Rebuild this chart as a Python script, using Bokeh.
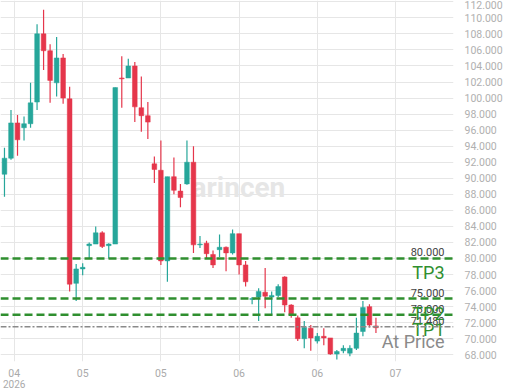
from bokeh.plotting import figure
from bokeh.models import (ColumnDataSource, FixedTicker, NumeralTickFormatter, Label,
                          Range1d, Span, LinearAxis)
from bokeh.core.properties import value
from bokeh.embed import file_html
from bokeh.resources import INLINE

opens = [90.5, 92.5, 96.9, 96.3, 96.8, 99.5, 108.0, 105.9, 101.9, 105.0,
         99.9, 76.9, 78.7, 81.6, 81.8, 83.2, 81.6, 81.8, 102.5, 102.5,
         104.0, 98.8, 97.8, 91.8, 91.0, 79.7, 90.2, 88.4, 89.3, 92.0,
         81.7, 81.9, 80.5, 81.1, 81.4, 80.7, 83.1, 79.2, 74.9, 75.2,
         75.8, 75.2, 75.4, 77.7, 74.2, 72.6, 70.0, 71.3, 69.7, 70.3,
         70.1, 68.1, 68.5, 68.2, 68.8, 70.9, 74.0, 71.6]
highs = [93.8, 98.5, 97.9, 97.7, 101.9, 109.2, 111.0, 106.7, 107.6, 105.5,
         101.4, 79.3, 79.4, 82.0, 84.0, 83.4, 81.9, 101.3, 105.2, 104.9,
         104.5, 102.7, 99.5, 92.7, 94.7, 90.2, 92.6, 89.3, 94.7, 94.0,
         82.8, 82.2, 81.0, 83.0, 81.5, 83.6, 83.1, 79.7, 75.2, 76.3,
         78.8, 75.9, 76.8, 77.8, 74.3, 72.9, 72.2, 71.7, 70.7, 71.3,
         70.1, 68.6, 69.2, 69.2, 72.6, 74.7, 74.3, 72.6]
lows = [87.7, 92.3, 92.8, 94.7, 96.3, 98.5, 103.5, 99.4, 100.2, 99.3,
        75.9, 74.7, 77.9, 80.0, 81.8, 81.3, 80.0, 81.8, 98.8, 102.5,
        97.0, 95.8, 94.9, 89.4, 79.2, 77.1, 88.0, 86.4, 89.2, 80.7,
        81.3, 80.0, 78.8, 80.2, 78.4, 80.5, 78.0, 76.5, 74.3, 72.2,
        73.8, 72.9, 75.2, 73.3, 72.6, 69.7, 68.8, 68.5, 69.4, 69.2,
        68.0, 67.4, 68.2, 67.8, 68.6, 70.3, 71.4, 70.7]
closes = [92.5, 96.9, 94.8, 96.8, 99.4, 108.0, 105.9, 102.2, 105.0, 100.0,
          76.8, 78.7, 78.9, 81.8, 83.2, 81.5, 81.8, 101.3, 102.4, 104.0,
          98.9, 97.8, 97.0, 91.1, 79.7, 90.2, 88.5, 87.6, 92.0, 81.7,
          81.8, 80.6, 79.2, 81.4, 80.7, 83.1, 79.2, 77.1, 75.0, 75.9,
          75.3, 75.4, 76.5, 74.2, 73.0, 70.0, 71.4, 70.1, 70.3, 70.1,
          68.1, 68.4, 68.8, 68.8, 70.7, 73.9, 71.7, 71.368]

tick_positions = [1.5, 12, 24, 36, 48, 60]
tick_labels = ["04", "05", "05", "06", "06", "07"]
year_label = "2026"

level_values = [80.0, 75.0, 73.0, 71.48]
level_names = ["TP3", "TP2", "TP1", "At Price"]
level_value_text = ["80.000", "75.000", "73.000", "71.480"]
last_price = 71.368

GREEN = "#26a69a"
RED = "#e5364b"
LEVEL_GREEN = "#2f8f2f"

idx = list(range(len(opens)))
is_up = [c >= o for o, c in zip(opens, closes)]
colors = [GREEN if u else RED for u in is_up]
src = ColumnDataSource(dict(
    x=idx, high=highs, low=lows,
    top=[max(o, c) for o, c in zip(opens, closes)],
    bottom=[min(o, c) for o, c in zip(opens, closes)],
    color=colors,
))

x_start, x_end = -0.61, 68.9
y_start, y_end = 67.16, 112.16
p = figure(width=520, height=390, output_backend="svg", toolbar_location=None,
           x_range=Range1d(x_start, x_end), y_range=Range1d(y_start, y_end),
           y_axis_location="right",
           min_border_left=0, min_border_top=0, min_border_right=67,
           min_border_bottom=28)
p.outline_line_color = None
p.background_fill_color = "white"
p.border_fill_color = "white"

# axes
yax = p.yaxis[0]
yax.ticker = FixedTicker(ticks=list(range(66, 114, 2)))
yax.formatter = NumeralTickFormatter(format="0.000")
yax.axis_line_color = None
yax.major_tick_line_color = None
yax.minor_tick_line_color = None
yax.major_label_text_color = "#b0b0b0"
yax.major_label_text_font = "Roboto"
yax.major_label_text_font_size = "10.5px"
yax.major_label_standoff = 5


def style_x_axis(ax, size, standoff):
    ax.axis_line_color = None
    ax.major_tick_line_color = None
    ax.minor_tick_line_color = None
    ax.major_tick_out = 0
    ax.major_tick_in = 0
    ax.major_label_text_color = "#aaaaaa"
    ax.major_label_text_font = "Roboto"
    ax.major_label_text_font_size = size
    ax.major_label_standoff = standoff


xax = p.xaxis[0]
xax.ticker = FixedTicker(ticks=tick_positions)
xax.major_label_overrides = {t: l for t, l in zip(tick_positions, tick_labels)}
style_x_axis(xax, "10.5px", 7)

# second row of the date axis: the year under the first tick
year_axis = LinearAxis(ticker=FixedTicker(ticks=[tick_positions[0]]),
                       major_label_overrides={tick_positions[0]: year_label})
style_x_axis(year_axis, "10px", 0)
p.add_layout(year_axis, "below")

p.xgrid.ticker = FixedTicker(ticks=tick_positions)
p.xgrid.grid_line_color = "#e6e6e6"
p.ygrid.grid_line_color = "#e6e6e6"

# watermark
p.text(x=[35.9], y=[88.8], text=["arincen"], text_align="center",
       text_baseline="middle", text_color="#e6e6e6",
       text_font=value("Roboto"), text_font_size="28px", text_font_style="bold")

# candles
p.segment(x0="x", x1="x", y0="low", y1="high", color="color", line_width=1.2,
          source=src)
p.vbar(x="x", width=0.72, top="top", bottom="bottom", fill_color="color",
       line_color="color", line_width=0.5, source=src)

# levels
for v, n in zip(level_values, level_names):
    if n == "At Price":
        p.add_layout(Span(location=v, dimension="width", line_color="#8a8a8a",
                          line_width=1.5, line_dash="6 2 2 2"))
    else:
        p.add_layout(Span(location=v, dimension="width", line_color=LEVEL_GREEN,
                          line_width=2.5, line_dash="8 4"))

p.text(x=[x_end] * len(level_values), y=level_values, text=level_value_text,
       text_align="right", text_baseline="bottom", x_offset=-9, y_offset=-2,
       text_color="#444444", text_font=value("Roboto"), text_font_size="11px")
name_colors = ["#8a8a8a" if n == "At Price" else LEVEL_GREEN for n in level_names]
p.text(x=[x_end] * len(level_values), y=level_values, text=level_names,
       text_align="right", text_baseline="top", x_offset=-9, y_offset=4,
       text_color=name_colors, text_font=value("Roboto"), text_font_size="18px")

# last price label on axis
p.add_layout(Label(x=x_end, y=last_price, text=f"{last_price:.3f}", x_offset=4,
                   text_baseline="middle", text_color=GREEN,
                   text_font="Roboto", text_font_size="10.5px",
                   background_fill_color="white"))

open("out.html", "w").write(file_html(p, INLINE))
